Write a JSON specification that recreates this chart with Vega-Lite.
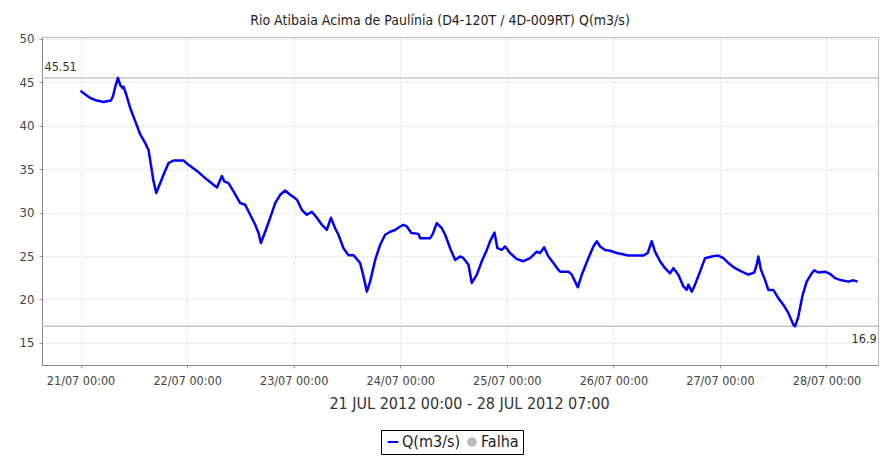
{
  "$schema": "https://vega.github.io/schema/vega-lite/v6.json",
  "autosize": {"type": "none"},
  "width": 836,
  "height": 328,
  "padding": {"left": 42, "top": 37, "right": 3, "bottom": 91},
  "background": "white",
  "title": {
    "text": "Rio Atibaia Acima de Paulínia (D4-120T / 4D-009RT) Q(m3/s)",
    "font": "DejaVu Sans Condensed, Liberation Sans Narrow, DejaVu Sans",
    "fontSize": 14,
    "fontWeight": "normal",
    "color": "#222222",
    "anchor": "middle",
    "dx": -20,
    "offset": 5
  },
  "config": {
    "font": "DejaVu Sans Condensed, Liberation Sans Narrow, DejaVu Sans",
    "view": {"stroke": "#bbbbbb", "strokeWidth": 1}
  },
  "data": {
    "values": [
      {"t": "2012-07-21T00:00", "q": 44.04},
      {"t": "2012-07-21T01:04", "q": 43.6},
      {"t": "2012-07-21T02:11", "q": 43.2},
      {"t": "2012-07-21T03:41", "q": 42.9},
      {"t": "2012-07-21T05:11", "q": 42.74},
      {"t": "2012-07-21T06:50", "q": 42.9},
      {"t": "2012-07-21T07:18", "q": 43.4},
      {"t": "2012-07-21T07:49", "q": 44.5},
      {"t": "2012-07-21T08:25", "q": 45.51},
      {"t": "2012-07-21T08:56", "q": 44.7},
      {"t": "2012-07-21T09:27", "q": 44.35},
      {"t": "2012-07-21T09:41", "q": 44.5},
      {"t": "2012-07-21T10:17", "q": 43.6},
      {"t": "2012-07-21T11:11", "q": 42.05},
      {"t": "2012-07-21T12:19", "q": 40.5},
      {"t": "2012-07-21T13:27", "q": 39.0},
      {"t": "2012-07-21T14:34", "q": 38.0},
      {"t": "2012-07-21T15:19", "q": 37.2},
      {"t": "2012-07-21T15:51", "q": 35.5},
      {"t": "2012-07-21T16:26", "q": 33.6},
      {"t": "2012-07-21T17:03", "q": 32.25},
      {"t": "2012-07-21T17:47", "q": 33.2},
      {"t": "2012-07-21T18:41", "q": 34.35},
      {"t": "2012-07-21T19:49", "q": 35.7},
      {"t": "2012-07-21T20:56", "q": 36.0},
      {"t": "2012-07-21T23:11", "q": 36.0},
      {"t": "2012-07-22T00:19", "q": 35.5},
      {"t": "2012-07-22T02:13", "q": 34.8},
      {"t": "2012-07-22T04:28", "q": 33.8},
      {"t": "2012-07-22T06:43", "q": 32.9},
      {"t": "2012-07-22T07:50", "q": 34.2},
      {"t": "2012-07-22T08:21", "q": 33.6},
      {"t": "2012-07-22T09:19", "q": 33.4},
      {"t": "2012-07-22T10:27", "q": 32.45},
      {"t": "2012-07-22T11:57", "q": 31.1},
      {"t": "2012-07-22T13:04", "q": 30.9},
      {"t": "2012-07-22T14:12", "q": 29.75},
      {"t": "2012-07-22T15:20", "q": 28.6},
      {"t": "2012-07-22T16:05", "q": 27.65},
      {"t": "2012-07-22T16:37", "q": 26.5},
      {"t": "2012-07-22T17:35", "q": 27.8},
      {"t": "2012-07-22T18:42", "q": 29.4},
      {"t": "2012-07-22T19:50", "q": 31.1},
      {"t": "2012-07-22T20:58", "q": 32.05},
      {"t": "2012-07-22T22:05", "q": 32.55},
      {"t": "2012-07-22T23:13", "q": 32.05},
      {"t": "2012-07-23T00:43", "q": 31.5},
      {"t": "2012-07-23T01:51", "q": 30.3},
      {"t": "2012-07-23T02:58", "q": 29.75},
      {"t": "2012-07-23T04:06", "q": 30.1},
      {"t": "2012-07-23T05:13", "q": 29.4},
      {"t": "2012-07-23T06:21", "q": 28.6},
      {"t": "2012-07-23T07:28", "q": 28.0},
      {"t": "2012-07-23T08:23", "q": 29.4},
      {"t": "2012-07-23T09:20", "q": 28.2},
      {"t": "2012-07-23T10:05", "q": 27.45},
      {"t": "2012-07-23T11:13", "q": 25.9},
      {"t": "2012-07-23T12:20", "q": 25.1},
      {"t": "2012-07-23T13:28", "q": 25.1},
      {"t": "2012-07-23T14:58", "q": 24.2},
      {"t": "2012-07-23T15:43", "q": 22.65},
      {"t": "2012-07-23T16:29", "q": 20.9},
      {"t": "2012-07-23T17:13", "q": 22.05},
      {"t": "2012-07-23T18:21", "q": 24.55},
      {"t": "2012-07-23T19:29", "q": 26.3},
      {"t": "2012-07-23T20:36", "q": 27.45},
      {"t": "2012-07-23T21:44", "q": 27.8},
      {"t": "2012-07-23T22:51", "q": 28.0},
      {"t": "2012-07-23T23:59", "q": 28.4},
      {"t": "2012-07-24T00:43", "q": 28.6},
      {"t": "2012-07-24T01:29", "q": 28.4},
      {"t": "2012-07-24T02:30", "q": 27.65},
      {"t": "2012-07-24T04:06", "q": 27.55},
      {"t": "2012-07-24T04:29", "q": 27.05},
      {"t": "2012-07-24T06:44", "q": 27.05},
      {"t": "2012-07-24T07:20", "q": 27.55},
      {"t": "2012-07-24T08:14", "q": 28.8},
      {"t": "2012-07-24T09:22", "q": 28.2},
      {"t": "2012-07-24T10:07", "q": 27.45},
      {"t": "2012-07-24T11:14", "q": 25.9},
      {"t": "2012-07-24T12:22", "q": 24.55},
      {"t": "2012-07-24T13:29", "q": 24.95},
      {"t": "2012-07-24T14:14", "q": 24.75},
      {"t": "2012-07-24T15:22", "q": 24.0},
      {"t": "2012-07-24T16:07", "q": 21.9},
      {"t": "2012-07-24T17:15", "q": 22.85},
      {"t": "2012-07-24T18:22", "q": 24.4},
      {"t": "2012-07-24T19:30", "q": 25.7},
      {"t": "2012-07-24T20:14", "q": 26.7},
      {"t": "2012-07-24T21:13", "q": 27.7},
      {"t": "2012-07-24T21:53", "q": 25.9},
      {"t": "2012-07-24T22:52", "q": 25.7},
      {"t": "2012-07-24T23:37", "q": 26.1},
      {"t": "2012-07-25T00:44", "q": 25.35},
      {"t": "2012-07-25T02:15", "q": 24.65},
      {"t": "2012-07-25T03:44", "q": 24.4},
      {"t": "2012-07-25T05:15", "q": 24.75},
      {"t": "2012-07-25T06:45", "q": 25.5},
      {"t": "2012-07-25T07:30", "q": 25.35},
      {"t": "2012-07-25T08:24", "q": 26.0},
      {"t": "2012-07-25T09:22", "q": 24.95},
      {"t": "2012-07-25T10:30", "q": 24.2},
      {"t": "2012-07-25T11:37", "q": 23.4},
      {"t": "2012-07-25T12:00", "q": 23.2},
      {"t": "2012-07-25T13:52", "q": 23.2},
      {"t": "2012-07-25T14:38", "q": 22.85},
      {"t": "2012-07-25T15:23", "q": 22.05},
      {"t": "2012-07-25T15:59", "q": 21.4},
      {"t": "2012-07-25T16:53", "q": 22.85},
      {"t": "2012-07-25T18:22", "q": 24.75},
      {"t": "2012-07-25T19:30", "q": 26.1},
      {"t": "2012-07-25T20:16", "q": 26.7},
      {"t": "2012-07-25T21:01", "q": 26.1},
      {"t": "2012-07-25T22:08", "q": 25.7},
      {"t": "2012-07-25T23:16", "q": 25.6},
      {"t": "2012-07-26T00:46", "q": 25.35},
      {"t": "2012-07-26T03:23", "q": 25.05},
      {"t": "2012-07-26T06:45", "q": 25.05},
      {"t": "2012-07-26T07:44", "q": 25.35},
      {"t": "2012-07-26T08:38", "q": 26.7},
      {"t": "2012-07-26T09:23", "q": 25.5},
      {"t": "2012-07-26T10:31", "q": 24.4},
      {"t": "2012-07-26T11:38", "q": 23.6},
      {"t": "2012-07-26T12:46", "q": 23.0},
      {"t": "2012-07-26T13:31", "q": 23.6},
      {"t": "2012-07-26T14:38", "q": 22.85},
      {"t": "2012-07-26T15:46", "q": 21.5},
      {"t": "2012-07-26T16:32", "q": 21.1},
      {"t": "2012-07-26T16:53", "q": 21.7},
      {"t": "2012-07-26T17:39", "q": 20.9},
      {"t": "2012-07-26T18:23", "q": 21.7},
      {"t": "2012-07-26T19:31", "q": 23.2},
      {"t": "2012-07-26T20:39", "q": 24.75},
      {"t": "2012-07-26T22:09", "q": 24.95},
      {"t": "2012-07-26T23:38", "q": 25.05},
      {"t": "2012-07-27T00:46", "q": 24.75},
      {"t": "2012-07-27T01:53", "q": 24.2},
      {"t": "2012-07-27T03:24", "q": 23.6},
      {"t": "2012-07-27T04:55", "q": 23.2},
      {"t": "2012-07-27T06:23", "q": 22.85},
      {"t": "2012-07-27T07:44", "q": 23.1},
      {"t": "2012-07-27T08:17", "q": 24.0},
      {"t": "2012-07-27T08:39", "q": 24.95},
      {"t": "2012-07-27T09:15", "q": 23.4},
      {"t": "2012-07-27T10:09", "q": 22.25},
      {"t": "2012-07-27T10:54", "q": 21.1},
      {"t": "2012-07-27T12:01", "q": 21.1},
      {"t": "2012-07-27T13:09", "q": 20.15},
      {"t": "2012-07-27T14:16", "q": 19.4},
      {"t": "2012-07-27T15:24", "q": 18.45},
      {"t": "2012-07-27T16:32", "q": 17.1},
      {"t": "2012-07-27T16:55", "q": 16.9},
      {"t": "2012-07-27T17:39", "q": 18.0},
      {"t": "2012-07-27T18:33", "q": 20.35},
      {"t": "2012-07-27T19:32", "q": 22.05},
      {"t": "2012-07-27T20:40", "q": 23.0},
      {"t": "2012-07-27T21:15", "q": 23.35},
      {"t": "2012-07-27T22:09", "q": 23.1},
      {"t": "2012-07-27T23:40", "q": 23.2},
      {"t": "2012-07-28T00:47", "q": 22.95},
      {"t": "2012-07-28T01:55", "q": 22.45},
      {"t": "2012-07-28T03:25", "q": 22.2},
      {"t": "2012-07-28T04:55", "q": 22.05},
      {"t": "2012-07-28T06:02", "q": 22.2},
      {"t": "2012-07-28T07:00", "q": 22.05}
    ],
    "format": {"parse": {"t": "date", "q": "number"}}
  },
  "encoding": {
    "x": {
      "field": "t",
      "type": "temporal",
      "scale": {
        "domain": [
          {"year": 2012, "month": 7, "date": 20, "hours": 15, "minutes": 19},
          {"year": 2012, "month": 7, "date": 28, "hours": 11, "minutes": 36}
        ]
      },
      "axis": {
        "values": [
          {"year": 2012, "month": 7, "date": 21},
          {"year": 2012, "month": 7, "date": 22},
          {"year": 2012, "month": 7, "date": 23},
          {"year": 2012, "month": 7, "date": 24},
          {"year": 2012, "month": 7, "date": 25},
          {"year": 2012, "month": 7, "date": 26},
          {"year": 2012, "month": 7, "date": 27},
          {"year": 2012, "month": 7, "date": 28}
        ],
        "format": "%d/%m %H:%M",
        "title": "21 JUL 2012 00:00 - 28 JUL 2012 07:00",
        "titleFontSize": 16,
        "titleFontWeight": "normal",
        "titleColor": "#333333",
        "titlePadding": 9,
        "titleX": 427,
        "labelFontSize": 12.5,
        "labelColor": "#444444",
        "labelPadding": 6,
        "tickSize": 3,
        "tickColor": "#999999",
        "domainColor": "#888888",
        "gridColor": "#dddddd",
        "gridDash": [2, 2],
        "labelFlush": false
      }
    },
    "y": {
      "field": "q",
      "type": "quantitative",
      "scale": {"domain": [12.45, 50.22], "nice": false, "zero": false},
      "axis": {
        "values": [15, 20, 25, 30, 35, 40, 45, 50],
        "title": null,
        "labelFontSize": 13,
        "labelColor": "#444444",
        "labelPadding": 5,
        "tickSize": 3,
        "tickColor": "#999999",
        "domainColor": "#888888",
        "gridColor": "#dddddd",
        "gridDash": [2, 2]
      }
    }
  },
  "layer": [
    {
      "transform": [{"aggregate": [{"op": "max", "field": "q", "as": "vmax"}, {"op": "min", "field": "t", "as": "tfirst"}]}],
      "layer": [
        {
          "mark": {"type": "rule", "color": "#c4c4c4", "strokeWidth": 1.5},
          "encoding": {"y": {"field": "vmax", "type": "quantitative"}, "x": null}
        },
        {
          "mark": {"type": "text", "align": "left", "baseline": "alphabetic", "dx": -36, "dy": -7, "fontSize": 12.5, "fill": "#333333"},
          "encoding": {
            "y": {"field": "vmax", "type": "quantitative"},
            "x": {"field": "tfirst", "type": "temporal"},
            "text": {"field": "vmax", "type": "quantitative", "format": ".4~g"}
          }
        }
      ]
    },
    {
      "transform": [{"aggregate": [{"op": "min", "field": "q", "as": "vmin"}, {"op": "max", "field": "t", "as": "tlast"}]}],
      "layer": [
        {
          "mark": {"type": "rule", "color": "#c4c4c4", "strokeWidth": 1.5},
          "encoding": {"y": {"field": "vmin", "type": "quantitative"}, "x": null}
        },
        {
          "mark": {"type": "text", "align": "left", "baseline": "top", "dx": -6, "dy": 7, "fontSize": 12.5, "fill": "#333333"},
          "encoding": {
            "y": {"field": "vmin", "type": "quantitative"},
            "x": {"field": "tlast", "type": "temporal"},
            "text": {"field": "vmin", "type": "quantitative", "format": ".4~g"}
          }
        }
      ]
    },
    {
      "mark": {"type": "line", "strokeWidth": 2.5, "strokeJoin": "round"},
      "encoding": {
        "color": {
          "datum": "Q(m3/s)",
          "type": "nominal",
          "scale": {"domain": ["Q(m3/s)", "Falha"], "range": ["#0000ff", "#bbbbbb"]},
          "legend": {
            "title": null,
            "orient": "none",
            "direction": "horizontal",
            "legendX": 339,
            "legendY": 393,
            "strokeColor": "#000000",
            "padding": 4,
            "labelFontSize": 16,
            "labelColor": "#222222",
            "labelOffset": 1,
            "columnPadding": 3,
            "symbolStrokeWidth": 2,
            "encode": {
              "symbols": {
                "update": {
                  "shape": {"signal": "datum.value === 'Falha' ? 'circle' : 'stroke'"},
                  "size": {"signal": "datum.value === 'Falha' ? 60 : 110"},
                  "fill": {"signal": "datum.value === 'Falha' ? '#bbbbbb' : 'transparent'"},
                  "stroke": {"signal": "datum.value === 'Falha' ? 'transparent' : '#0000ff'"}
                }
              }
            }
          }
        }
      }
    }
  ]
}
